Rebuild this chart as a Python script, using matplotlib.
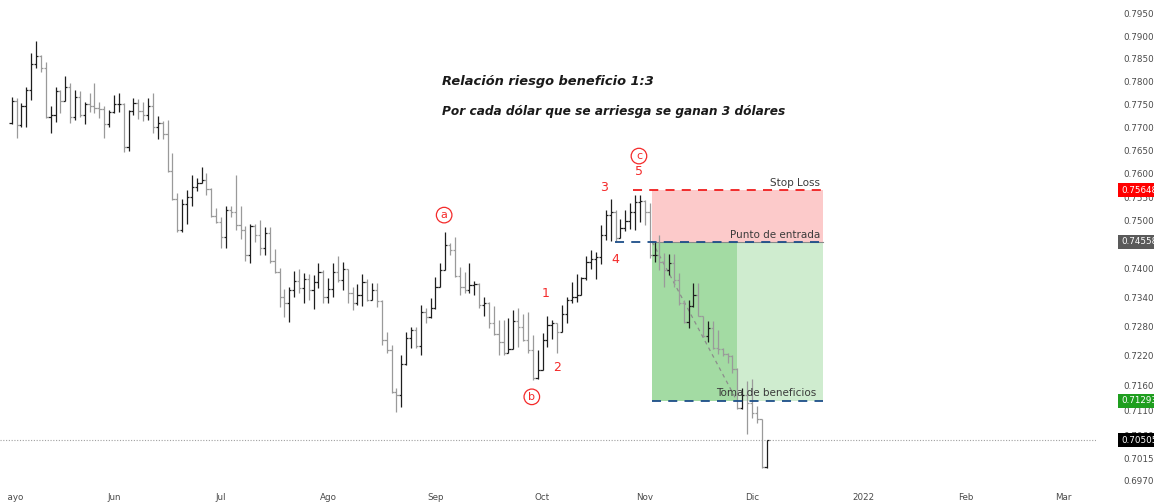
import numpy as np
import pandas as pd
import matplotlib
matplotlib.use('Agg')
import matplotlib.pyplot as plt
from matplotlib.transforms import blended_transform_factory, Bbox, TransformedBbox
from matplotlib.ticker import FixedLocator, NullLocator, FormatStrFormatter

# AUD/USD diario, barras OHLC (3 may 2021 - 6 dic 2021)
apertura = [
    0.7709, 0.7758, 0.7705, 0.7747, 0.7782, 0.7839, 0.7857, 0.7830, 0.7723, 0.7727,
    0.7779, 0.7758, 0.7788, 0.7722, 0.7766, 0.7727, 0.7751, 0.7747, 0.7742, 0.7740,
    0.7707, 0.7733, 0.7751, 0.7751, 0.7658, 0.7736, 0.7753, 0.7736, 0.7727, 0.7747,
    0.7701, 0.7709, 0.7686, 0.7606, 0.7546, 0.7481, 0.7536, 0.7550, 0.7572, 0.7580,
    0.7587, 0.7568, 0.7510, 0.7498, 0.7466, 0.7523, 0.7519, 0.7491, 0.7481, 0.7428,
    0.7489, 0.7470, 0.7443, 0.7474, 0.7416, 0.7393, 0.7341, 0.7328, 0.7355, 0.7374,
    0.7359, 0.7378, 0.7355, 0.7372, 0.7393, 0.7341, 0.7357, 0.7393, 0.7376, 0.7399,
    0.7349, 0.7328, 0.7345, 0.7372, 0.7335, 0.7355, 0.7332, 0.7252, 0.7232, 0.7147,
    0.7141, 0.7204, 0.7256, 0.7273, 0.7240, 0.7310, 0.7300, 0.7318, 0.7361, 0.7397,
    0.7449, 0.7439, 0.7384, 0.7361, 0.7355, 0.7365, 0.7368, 0.7324, 0.7328, 0.7287,
    0.7265, 0.7248, 0.7226, 0.7234, 0.7291, 0.7279, 0.7252, 0.7232, 0.7175, 0.7191,
    0.7252, 0.7283, 0.7287, 0.7269, 0.7306, 0.7335, 0.7341, 0.7345, 0.7380, 0.7414,
    0.7420, 0.7424, 0.7470, 0.7512, 0.7519, 0.7464, 0.7485, 0.7500, 0.7519, 0.7540,
    0.7542, 0.7519, 0.7428, 0.7428, 0.7414, 0.7397, 0.7412, 0.7376, 0.7328, 0.7289,
    0.7322, 0.7345, 0.7302, 0.7260, 0.7277, 0.7236, 0.7234, 0.7224, 0.7220, 0.7193,
    0.7115, 0.7141, 0.7125, 0.7105, 0.7093, 0.6997]
maximo = [
    0.7766, 0.7764, 0.7753, 0.7788, 0.7863, 0.7890, 0.7859, 0.7843, 0.7747, 0.7788,
    0.7782, 0.7812, 0.7797, 0.7782, 0.7779, 0.7755, 0.7775, 0.7797, 0.7755, 0.7747,
    0.7738, 0.7771, 0.7775, 0.7753, 0.7738, 0.7764, 0.7762, 0.7755, 0.7764, 0.7775,
    0.7725, 0.7714, 0.7716, 0.7645, 0.7559, 0.7546, 0.7565, 0.7597, 0.7591, 0.7615,
    0.7602, 0.7570, 0.7527, 0.7508, 0.7532, 0.7532, 0.7597, 0.7532, 0.7489, 0.7493,
    0.7493, 0.7502, 0.7487, 0.7487, 0.7441, 0.7401, 0.7357, 0.7361, 0.7395, 0.7399,
    0.7391, 0.7389, 0.7387, 0.7412, 0.7397, 0.7380, 0.7411, 0.7426, 0.7414, 0.7399,
    0.7361, 0.7368, 0.7389, 0.7378, 0.7370, 0.7370, 0.7335, 0.7269, 0.7242, 0.7155,
    0.7222, 0.7269, 0.7279, 0.7279, 0.7324, 0.7318, 0.7339, 0.7382, 0.7412, 0.7476,
    0.7453, 0.7466, 0.7403, 0.7393, 0.7411, 0.7374, 0.7370, 0.7341, 0.7330, 0.7322,
    0.7293, 0.7293, 0.7297, 0.7314, 0.7318, 0.7306, 0.7310, 0.7262, 0.7232, 0.7267,
    0.7302, 0.7293, 0.7287, 0.7324, 0.7341, 0.7372, 0.7389, 0.7382, 0.7426, 0.7439,
    0.7434, 0.7491, 0.7523, 0.7546, 0.7522, 0.7504, 0.7523, 0.7538, 0.7555, 0.7555,
    0.7545, 0.7538, 0.7455, 0.7470, 0.7432, 0.7430, 0.7430, 0.7391, 0.7335, 0.7335,
    0.7370, 0.7370, 0.7302, 0.7291, 0.7291, 0.7273, 0.7236, 0.7226, 0.7222, 0.7195,
    0.7155, 0.7169, 0.7173, 0.7119, 0.7093, 0.7051]
minimo = [
    0.7707, 0.7677, 0.7701, 0.7701, 0.7760, 0.7830, 0.7821, 0.7720, 0.7688, 0.7712,
    0.7731, 0.7758, 0.7709, 0.7716, 0.7722, 0.7707, 0.7733, 0.7731, 0.7720, 0.7677,
    0.7701, 0.7731, 0.7733, 0.7647, 0.7649, 0.7727, 0.7718, 0.7714, 0.7716, 0.7688,
    0.7675, 0.7675, 0.7604, 0.7544, 0.7476, 0.7476, 0.7493, 0.7532, 0.7563, 0.7580,
    0.7555, 0.7508, 0.7495, 0.7443, 0.7443, 0.7508, 0.7481, 0.7462, 0.7416, 0.7411,
    0.7455, 0.7428, 0.7428, 0.7411, 0.7391, 0.7320, 0.7300, 0.7289, 0.7341, 0.7349,
    0.7328, 0.7335, 0.7316, 0.7359, 0.7328, 0.7328, 0.7341, 0.7372, 0.7355, 0.7328,
    0.7314, 0.7324, 0.7322, 0.7332, 0.7335, 0.7320, 0.7242, 0.7226, 0.7145, 0.7107,
    0.7117, 0.7202, 0.7236, 0.7236, 0.7222, 0.7287, 0.7298, 0.7316, 0.7361, 0.7397,
    0.7428, 0.7382, 0.7345, 0.7349, 0.7349, 0.7345, 0.7318, 0.7302, 0.7277, 0.7262,
    0.7222, 0.7222, 0.7226, 0.7234, 0.7238, 0.7250, 0.7226, 0.7171, 0.7173, 0.7191,
    0.7238, 0.7254, 0.7226, 0.7269, 0.7287, 0.7328, 0.7330, 0.7345, 0.7376, 0.7399,
    0.7378, 0.7409, 0.7460, 0.7458, 0.7455, 0.7464, 0.7478, 0.7483, 0.7481, 0.7498,
    0.7491, 0.7422, 0.7414, 0.7397, 0.7361, 0.7387, 0.7361, 0.7324, 0.7287, 0.7277,
    0.7320, 0.7302, 0.7258, 0.7248, 0.7234, 0.7224, 0.7220, 0.7206, 0.7185, 0.7113,
    0.7113, 0.7063, 0.7095, 0.7085, 0.6995, 0.6995]
cierre = [
    0.7758, 0.7705, 0.7747, 0.7782, 0.7839, 0.7857, 0.7830, 0.7723, 0.7727, 0.7779,
    0.7758, 0.7788, 0.7722, 0.7766, 0.7727, 0.7751, 0.7747, 0.7742, 0.7740, 0.7707,
    0.7733, 0.7751, 0.7751, 0.7658, 0.7736, 0.7753, 0.7736, 0.7727, 0.7747, 0.7701,
    0.7709, 0.7686, 0.7606, 0.7546, 0.7481, 0.7536, 0.7550, 0.7572, 0.7580, 0.7587,
    0.7568, 0.7510, 0.7498, 0.7466, 0.7523, 0.7519, 0.7491, 0.7481, 0.7428, 0.7489,
    0.7470, 0.7443, 0.7474, 0.7416, 0.7393, 0.7341, 0.7328, 0.7355, 0.7374, 0.7359,
    0.7378, 0.7355, 0.7372, 0.7393, 0.7341, 0.7357, 0.7393, 0.7376, 0.7399, 0.7349,
    0.7328, 0.7345, 0.7372, 0.7335, 0.7355, 0.7332, 0.7252, 0.7232, 0.7147, 0.7141,
    0.7204, 0.7256, 0.7273, 0.7240, 0.7310, 0.7300, 0.7318, 0.7361, 0.7397, 0.7449,
    0.7439, 0.7384, 0.7361, 0.7355, 0.7365, 0.7368, 0.7324, 0.7328, 0.7287, 0.7265,
    0.7248, 0.7226, 0.7234, 0.7291, 0.7279, 0.7252, 0.7232, 0.7175, 0.7191, 0.7252,
    0.7283, 0.7287, 0.7269, 0.7306, 0.7335, 0.7341, 0.7345, 0.7380, 0.7414, 0.7420,
    0.7424, 0.7470, 0.7512, 0.7519, 0.7464, 0.7485, 0.7500, 0.7519, 0.7540, 0.7542,
    0.7519, 0.7428, 0.7428, 0.7414, 0.7397, 0.7412, 0.7376, 0.7328, 0.7289, 0.7322,
    0.7345, 0.7302, 0.7260, 0.7277, 0.7236, 0.7234, 0.7224, 0.7220, 0.7193, 0.7115,
    0.7141, 0.7125, 0.7105, 0.7093, 0.6997, 0.70505]

# Niveles de la operacion
stop_loss = 0.75648
precio_entrada = 0.74558
toma_beneficios = 0.71293
ultimo_precio = 0.70505

# Eje de precios y meses
precios_eje = [0.795, 0.790, 0.785, 0.780, 0.775, 0.770, 0.765, 0.760, 0.755,
               0.750, 0.740, 0.734, 0.728, 0.722, 0.716, 0.711, 0.706, 0.7015, 0.697]
meses = ['Mayo', 'Jun', 'Jul', 'Ago', 'Sep', 'Oct', 'Nov', 'Dic', '2022', 'Feb', 'Mar']

# Etiquetas de ondas (indice de barra, precio)
letras = ['a', 'b', 'c']
letras_x = [88.8, 106.8, 128.8]
letras_y = [0.7512, 0.7137, 0.7638]
numeros = ['1', '2', '3', '4', '5']
numeros_x = [109.7, 112.0, 121.6, 123.9, 128.8]
numeros_y = [0.7347, 0.7197, 0.7570, 0.7418, 0.7604]

# Herramienta de posicion (indices de barra)
pos_inicio = 131.5
pos_toque = 148.9
pos_fin = 166.6
entrada_linea_inicio = 123.9
stop_linea_inicio = 127.6

apertura = np.array(apertura)
maximo = np.array(maximo)
minimo = np.array(minimo)
cierre = np.array(cierre)
x = np.arange(len(cierre))

fechas = pd.bdate_range('2021-05-03', '2022-03-31')
idx = pd.Series(np.arange(len(fechas)), index=fechas)
inicio_mes = idx.groupby(fechas.to_period('M')).first().values

fig = plt.figure(figsize=(11.54, 5.04), dpi=100)
ax = fig.add_axes([0, 16 / 504, 1096 / 1154, 488 / 504])

# Zonas de riesgo / beneficio
ax.fill_between([pos_inicio, pos_fin], precio_entrada, stop_loss, color='#fccaca', lw=0, zorder=0)
ax.fill_between([pos_inicio, pos_toque], toma_beneficios, precio_entrada, color='#a3dba3', lw=0, zorder=0)
ax.fill_between([pos_toque, pos_fin], toma_beneficios, precio_entrada, color='#cfeccf', lw=0, zorder=0)
ax.plot([pos_inicio, pos_fin], [precio_entrada, precio_entrada], color='#8a8a8a', lw=0.8, zorder=1)

# Barras OHLC
colores = np.where(cierre >= apertura, '#1e1e1e', '#9a9a9a')
ax.vlines(x, minimo, maximo, colors=colores, lw=0.9, zorder=3)
ax.hlines(apertura, x - 0.45, x, colors=colores, lw=0.9, zorder=3)
ax.hlines(cierre, x, x + 0.45, colors=colores, lw=0.9, zorder=3)

# Lineas de la operacion
ax.plot([stop_linea_inicio, pos_fin], [stop_loss, stop_loss], color='#f01e1e', lw=1.3,
        ls=(0, (5, 4)), zorder=4)
ax.plot([entrada_linea_inicio, pos_fin], [precio_entrada, precio_entrada], color='#1d4e89', lw=1.3,
        ls=(0, (5, 4)), zorder=4)
ax.plot([pos_inicio, pos_fin], [toma_beneficios, toma_beneficios], color='#1d4e89', lw=1.3,
        ls=(0, (5, 4)), zorder=4)
ax.plot([pos_inicio, pos_toque], [precio_entrada, toma_beneficios], color='#8c8c8c', lw=0.9,
        ls=(0, (3, 3)), zorder=2)
ax.axhline(ultimo_precio, color='#a0a0a0', lw=0.8, ls=(0, (1, 1.5)), zorder=1)

txt = dict(ha='right', va='bottom', fontsize=7.5, color='#3b3b3b', zorder=6)
ax.annotate('Stop Loss', (166.0, stop_loss), xytext=(0, 1.5), textcoords='offset points', **txt)
ax.annotate('Punto de entrada', (166.0, precio_entrada), xytext=(0, 1.5), textcoords='offset points', **txt)
ax.annotate('Toma de beneficios', (165.2, toma_beneficios), xytext=(0, 2), textcoords='offset points', **txt)

# Ondas de Elliott
rojo = '#f42a2a'
for s, xi, yi in zip(letras, letras_x, letras_y):
    ax.text(xi, yi, s, ha='center', va='center', fontsize=8, color=rojo, zorder=6,
            bbox=dict(boxstyle='circle,pad=0.25', fc='white', ec=rojo, lw=0.9))
for s, xi, yi in zip(numeros, numeros_x, numeros_y):
    ax.text(xi, yi, s, ha='center', va='center', fontsize=9, color=rojo, zorder=6)

# Texto
fig.text(442 / 1154, 1 - 82 / 504, 'Relación riesgo beneficio 1:3', fontsize=9.4,
         fontweight='bold', fontstyle='italic', va='center', color='#1a1a1a')
fig.text(442 / 1154, 1 - 112 / 504, 'Por cada dólar que se arriesga se ganan 3 dólares', fontsize=8.75,
         fontweight='bold', fontstyle='italic', va='center', color='#1a1a1a')

# Ejes
ax.set_yscale('log')
ax.set_ylim(0.6956, 0.79814)
ax.set_xlim(-2.40, 222.65)
ax.yaxis.tick_right()
ax.yaxis.set_major_locator(FixedLocator(precios_eje))
ax.yaxis.set_major_formatter(FormatStrFormatter('%.5f'))
ax.yaxis.set_minor_locator(NullLocator())
ax.tick_params(axis='y', length=0, pad=19.5, labelsize=6.3, labelcolor='#4a4a4a')
ax.set_xticks(inicio_mes)
ax.set_xticklabels(meses)
ax.tick_params(axis='x', length=0, pad=3.5, labelsize=6.3, labelcolor='#4a4a4a')
for sp in ax.spines.values():
    sp.set_visible(False)

# Recorte de la primera etiqueta (como en la captura)
recorte = TransformedBbox(Bbox.from_extents(7.5 / 1154, 0, 1, 1), fig.transFigure)
primera = ax.xaxis.get_major_ticks()[0].label1
primera.set_clip_box(recorte)
primera.set_clip_on(True)

# Etiquetas de precio en el eje
trans = blended_transform_factory(fig.transFigure, ax.transData)
for valor, fondo in [(stop_loss, '#ff0000'), (precio_entrada, '#5a5a5a'),
                     (toma_beneficios, '#1f9e1f'), (ultimo_precio, '#000000')]:
    ax.text(1121 / 1154, valor, f'{valor:.5f}', transform=trans, ha='left', va='center',
            fontsize=6.3, color='white', clip_on=False, zorder=10,
            bbox=dict(boxstyle='square,pad=0.3', fc=fondo, ec='none'))

fig.savefig('out.png', dpi=100)
